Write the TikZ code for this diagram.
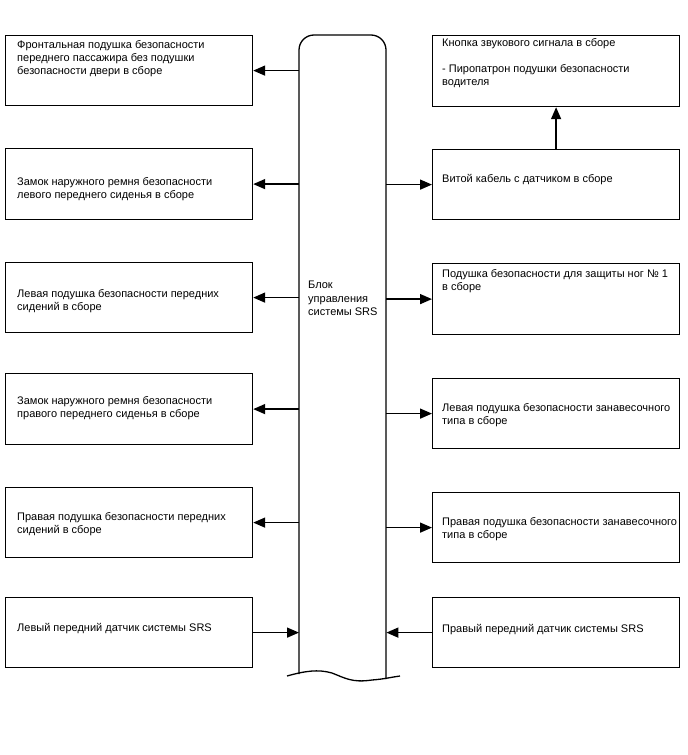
\documentclass[tikz,border=0pt]{standalone}
\usepackage{fontspec}
\setmainfont{Liberation Sans}
\usetikzlibrary{arrows.meta}
\begin{document}
\begin{tikzpicture}[x=1pt,y=-1pt,
  box/.style={draw, line width=1.2pt, minimum width=247pt, minimum height=70pt, inner sep=0pt, anchor=north west},
  txt/.style={anchor=base west, align=left, inner sep=0pt, font=\fontsize{11}{13}\selectfont},
  arr/.style={line width=1.5pt, -{Triangle[length=12pt,width=10pt]}},
]
\useasboundingbox (0,0) rectangle (688,755);
% central block
\node[inner sep=0pt, minimum width=87pt, minimum height=640pt, anchor=north west] (blk) at (299,35) {};
\draw[line width=1.3pt] (299,674) -- (299,50) arc[start angle=180, end angle=270, radius=15] -- (371,35)
  arc[start angle=270, end angle=360, radius=15] -- (386,679);
\draw[line width=1.3pt] (287,676) .. controls (305,671) and (318,669) .. (332,673)
  .. controls (345,678) and (352,683) .. (372,680) .. controls (385,679) and (392,677) .. (400,676);
\node[txt, font=\fontsize{11}{13.5}\selectfont] (blktxt) at (308,315.5) {Блок\\управления\\системы SRS};

% left boxes
\node[box] (L1) at (5,35) {};
\node[box, minimum height=71pt] (L2) at (5,148) {};
\node[box] (L3) at (5,262) {};
\node[box, minimum height=71pt] (L4) at (5,373) {};
\node[box] (L5) at (5,487) {};
\node[box] (L6) at (5,597) {};

\node[txt] (tL1) at (17,74.5) {Фронтальная подушка безопасности\\переднего пассажира без подушки\\безопасности двери в сборе};
\node[txt] (tL2) at (17,198.5) {Замок наружного ремня безопасности\\левого переднего сиденья в сборе};
\node[txt] (tL3) at (17,310.5) {Левая подушка безопасности передних\\сидений в сборе};
\node[txt] (tL4) at (17,417.5) {Замок наружного ремня безопасности\\правого переднего сиденья в сборе};
\node[txt] (tL5) at (17,533.5) {Правая подушка безопасности передних\\сидений в сборе};
\node[txt] (tL6) at (17,631.5) {Левый передний датчик системы SRS};

% right boxes
\node[box, minimum height=71pt] (R1) at (432,35) {};
\node[box] (R2) at (432,149) {};
\node[box, minimum height=71pt] (R3) at (432,263) {};
\node[box] (R4) at (432,378) {};
\node[box] (R5) at (432,492) {};
\node[box] (R6) at (432,597) {};

\node[txt] (tR1) at (442,85.5) {Кнопка звукового сигнала в сборе\\[13pt]- Пиропатрон подушки безопасности\\водителя};
\node[txt] (tR2) at (442,182.5) {Витой кабель с датчиком в сборе};
\node[txt] (tR3) at (442,290.5) {Подушка безопасности для защиты ног № 1\\в сборе};
\node[txt] (tR4) at (442,424.5) {Левая подушка безопасности занавесочного\\типа в сборе};
\node[txt] (tR5) at (442,538.5) {Правая подушка безопасности занавесочного\\типа в сборе};
\node[txt] (tR6) at (442,632.5) {Правый передний датчик системы SRS};

% connectors
\foreach \b in {L1,L2,L3,L4,L5} \draw[arr] (\b.east -| blk.west) -- (\b.east);
\foreach \b in {R2,R3,R4,R5} \draw[arr] (\b.west -| blk.east) -- (\b.west);
\draw[arr] (L6.east) -- (L6.east -| blk.west);
\draw[arr] (R6.west) -- (R6.west -| blk.east);
\draw[arr] (R2.north) -- (R1.south);
\end{tikzpicture}
\end{document}
